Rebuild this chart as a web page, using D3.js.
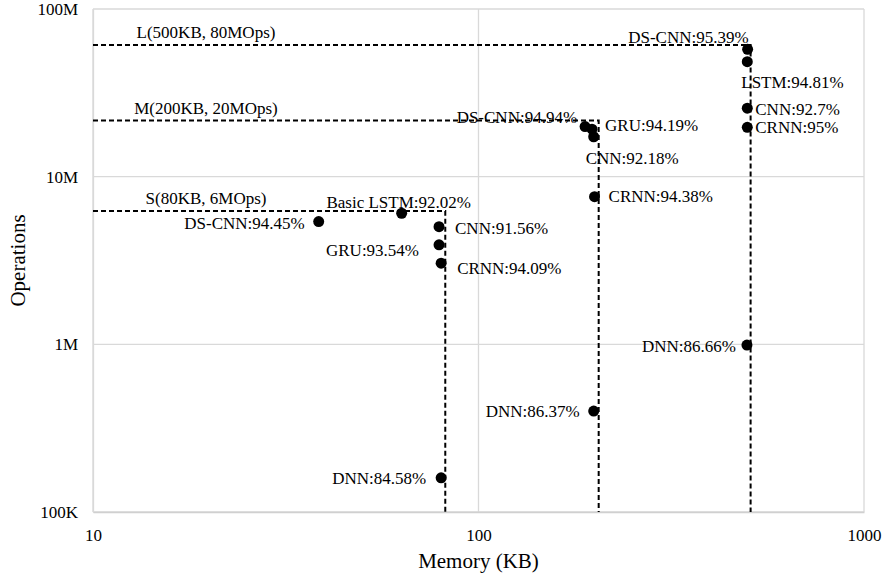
<!DOCTYPE html>
<html>
<head>
<meta charset="utf-8">
<script src="https://cdn.jsdelivr.net/npm/d3@7"></script>
<style>
  html, body { margin: 0; padding: 0; background: #fff; }
  svg { display: block; }
  text { font-family: "Liberation Serif", "Times New Roman", serif; fill: #000; }
</style>
</head>
<body>
<svg id="chart" width="883" height="575"></svg>
<script>
// ---- Data ----
const modelNames   = ["Basic LSTM", "DS-CNN", "CNN", "GRU", "CRNN", "DNN",
                      "DS-CNN", "GRU", "CNN", "CRNN", "DNN",
                      "DS-CNN", "LSTM", "CNN", "CRNN", "DNN"];
const accuracies   = ["92.02%", "94.45%", "91.56%", "93.54%", "94.09%", "84.58%",
                      "94.94%", "94.19%", "92.18%", "94.38%", "86.37%",
                      "95.39%", "94.81%", "92.7%", "95%", "86.66%"];
const memoryKB     = [63.2, 38.5, 79, 79, 80, 80,
                      189, 197, 199, 200, 199,
                      499, 498, 498, 498, 497];
const operations   = [6.05e6, 5.4e6, 5.03e6, 3.92e6, 3.05e6, 1.6e5,
                      1.99e7, 1.92e7, 1.73e7, 7.6e6, 4.0e5,
                      5.75e7, 4.85e7, 2.56e7, 1.97e7, 9.9e5];

const limitLabels  = ["S(80KB, 6MOps)", "M(200KB, 20MOps)", "L(500KB, 80MOps)"];
const limitMemory  = [82, 205, 508];
const limitOps     = [6.24e6, 2.16e7, 6.1e7];

const xTickValues  = [10, 100, 1000];
const xTickLabels  = ["10", "100", "1000"];
const yTickValues  = [1e5, 1e6, 1e7, 1e8];
const yTickLabels  = ["100K", "1M", "10M", "100M"];

const xTitle = "Memory (KB)";
const yTitle = "Operations";

// ---- Label layout (anchor, dx, dy in px relative to the point) ----
const labelLayout = [
  ["middle", -3, -11],   // Basic LSTM
  ["end", -14, 2],       // DS-CNN S
  ["start", 16, 2],      // CNN S
  ["end", -20, 6],       // GRU S
  ["start", 16, 5],      // CRNN S
  ["end", -15, 1],       // DNN S
  ["end", -8, -9],       // DS-CNN M
  ["start", 13, -4],     // GRU M
  ["start", -8, 22],     // CNN M
  ["start", 14, 0],      // CRNN M
  ["end", -14, 0],       // DNN M
  ["end", 1, -12],       // DS-CNN L
  ["start", -6, 21],     // LSTM L
  ["start", 8, 1],       // CNN L
  ["start", 8, 0],       // CRNN L
  ["end", -11, 1]        // DNN L
];

// ---- Chart ----
const svg = d3.select("#chart");
const plot = { left: 93, right: 864, top: 9, bottom: 512 };

const x = d3.scaleLog().domain([10, 1000]).range([plot.left, plot.right]);
const y = d3.scaleLog().domain([1e5, 1e8]).range([plot.bottom, plot.top]);

const gridColor = "#d9d9d9";

// gridlines
svg.append("g").selectAll("line").data(xTickValues).join("line")
  .attr("x1", d => x(d)).attr("x2", d => x(d))
  .attr("y1", plot.top).attr("y2", plot.bottom)
  .attr("stroke", gridColor).attr("stroke-width", 1.3);
svg.append("g").selectAll("line").data(yTickValues).join("line")
  .attr("y1", d => y(d)).attr("y2", d => y(d))
  .attr("x1", plot.left).attr("x2", plot.right)
  .attr("stroke", gridColor).attr("stroke-width", 1.3);

// axes (tick labels only)
const xAxis = d3.axisBottom(x).tickValues(xTickValues)
  .tickFormat((d, i) => xTickLabels[i]).tickSize(0).tickPadding(17);
const gx = svg.append("g").attr("transform", `translate(0,${plot.bottom})`).call(xAxis);
gx.select(".domain").attr("stroke", "#d0d0d0").attr("stroke-width", 1.5);
gx.selectAll("text").style("font-size", "17px").style("font-family", "Liberation Serif");

const yAxis = d3.axisLeft(y).tickValues(yTickValues)
  .tickFormat((d, i) => yTickLabels[i]).tickSize(0).tickPadding(15);
const gy = svg.append("g").attr("transform", `translate(${plot.left},0)`).call(yAxis);
gy.select(".domain").attr("stroke", gridColor).attr("stroke-width", 1.3);
gy.selectAll("text").style("font-size", "17px").style("font-family", "Liberation Serif");

// axis titles
svg.append("text").attr("x", (plot.left + plot.right) / 2).attr("y", 568)
  .attr("text-anchor", "middle").style("font-size", "21px").text(xTitle);
svg.append("text").attr("transform", `translate(25,${(plot.top + plot.bottom) / 2}) rotate(-90)`)
  .attr("text-anchor", "middle").style("font-size", "21px").text(yTitle);

// constraint dashed lines
const limits = limitLabels.map((l, i) => ({ label: l, mem: limitMemory[i], ops: limitOps[i] }));
const gl = svg.append("g");
gl.selectAll("path").data(limits).join("path")
  .attr("d", d => `M${plot.left},${y(d.ops)}H${x(d.mem)}V${plot.bottom}`)
  .attr("fill", "none").attr("stroke", "#000").attr("stroke-width", 2)
  .attr("stroke-dasharray", "5,3");
gl.selectAll("text").data(limits).join("text")
  .attr("x", 206).attr("y", d => y(d.ops) - 7)
  .attr("text-anchor", "middle").style("font-size", "17px").text(d => d.label);

// points
const pts = modelNames.map((n, i) => ({ name: n, acc: accuracies[i], mem: memoryKB[i], ops: operations[i], lay: labelLayout[i] }));
svg.append("g").selectAll("circle").data(pts).join("circle")
  .attr("cx", d => x(d.mem)).attr("cy", d => y(d.ops)).attr("r", 5.5)
  .attr("fill", "#000");

svg.append("g").selectAll("text").data(pts).join("text")
  .attr("x", d => x(d.mem) + d.lay[1]).attr("y", d => y(d.ops) + d.lay[2])
  .attr("text-anchor", d => d.lay[0]).attr("dominant-baseline", "central")
  .style("font-size", "17px")
  .text(d => `${d.name}:${d.acc}`);
</script>
</body>
</html>
